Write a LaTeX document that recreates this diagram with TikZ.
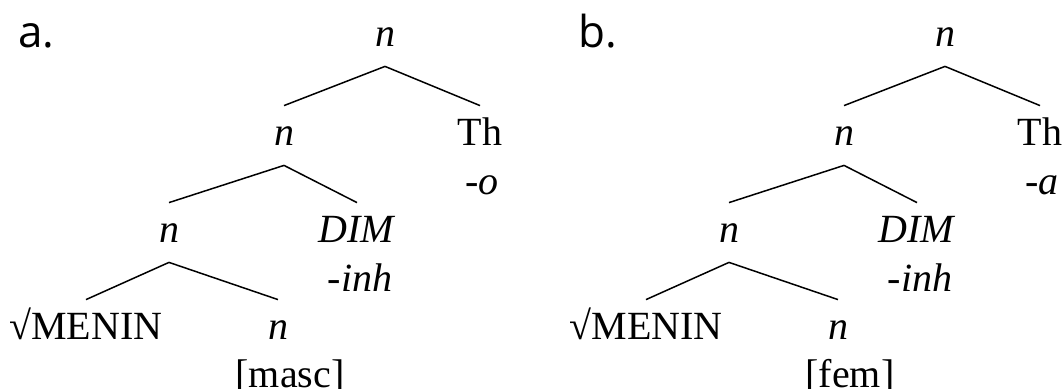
\documentclass[tikz,border=0pt]{standalone}
\usepackage{fontspec}
\setmainfont{Liberation Serif}
\newfontfamily\treefont{Liberation Serif}
\newfontfamily\labelfont{Open Sans}
\usetikzlibrary{positioning}

\tikzset{
  word/.style={inner sep=0pt,anchor=base,font=\treefont\fontsize{20}{24}\selectfont},
  cat/.style={word,text height=20pt,text depth=9.5pt},
  expo/.style={word,text height=14pt,text depth=5pt},
  branch/.style={line width=0.75pt}
}

\begin{document}
\begin{tikzpicture}[x=0.5pt,y=-0.5pt]
  \useasboundingbox (0,0) rectangle (1064,389);
  \foreach \t/\dx/\suf/\gnd in {a/0/o/masc,b/560/a/fem}{
    \node[anchor=base west,inner sep=0pt,font=\labelfont\fontsize{22}{26}\selectfont] (lab\t) at (18+\dx,48) {\t.};
    % nodes of the tree
    \node[cat] (top\t) at (385+\dx,47) {\textit{n}};
    \node[cat] (mid\t) at (284+\dx,146) {\textit{n}};
    \node[cat] (th\t) at (480+\dx,146) {Th};
    \node[expo] (thx\t) at (482+\dx,195) {\textit{-\suf}};
    \node[cat] (low\t) at (169+\dx,243) {\textit{n}};
    \node[cat] (dim\t) at (357+\dx,243) {\textit{DIM}};
    \node[expo] (dimx\t) at (360+\dx,292) {\textit{-inh}};
    \node[cat] (root\t) at (86+\dx,340) {√MENIN};
    \node[cat] (nn\t) at (278+\dx,340) {\textit{n}};
    \node[expo] (nnx\t) at (290+\dx,387) {[\gnd]};
    % branches
    \draw[branch] (top\t.south) -- (mid\t.north);
    \draw[branch] (top\t.south) -- (th\t.north);
    \draw[branch] (mid\t.south) -- (low\t.north);
    \draw[branch] (mid\t.south) -- (dim\t.north);
    \draw[branch] (low\t.south) -- (root\t.north);
    \draw[branch] (low\t.south) -- (nn\t.north);
  }
\end{tikzpicture}
\end{document}
